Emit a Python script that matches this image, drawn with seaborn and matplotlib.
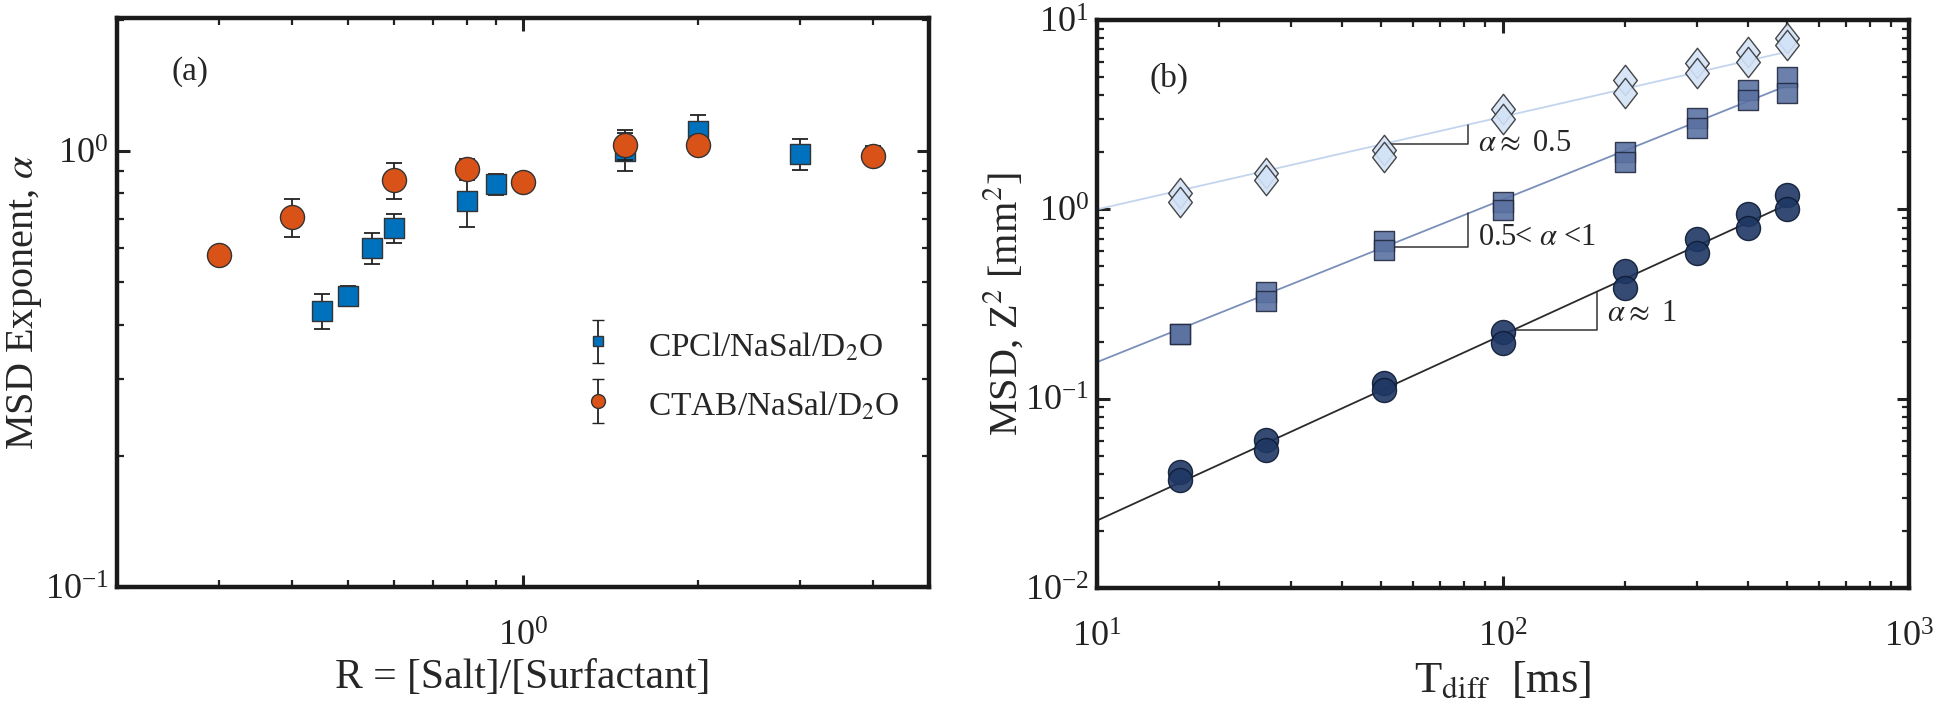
import numpy as np
import pandas as pd
import matplotlib
matplotlib.use('Agg')
import matplotlib.pyplot as plt
import seaborn as sns
from matplotlib.ticker import LogLocator, NullFormatter
from matplotlib.path import Path
from matplotlib.legend_handler import HandlerErrorbar

# Panel (a): MSD exponent vs salt/surfactant ratio
R_cpcl = [0.45, 0.5, 0.55, 0.6, 0.8, 0.9, 1.5, 2.0, 3.0]
alpha_cpcl = [0.43, 0.466, 0.60, 0.666, 0.77, 0.84, 1.0, 1.11, 0.987]
err_cpcl = [0.04, 0.025, 0.05, 0.05, 0.10, 0.045, 0.10, 0.10, 0.08]

R_ctab = [0.3, 0.4, 0.6, 0.8, 1.0, 1.5, 2.0, 4.0]
alpha_ctab = [0.579, 0.705, 0.858, 0.91, 0.85, 1.035, 1.035, 0.977]
err_ctab = [0.02, 0.07, 0.08, 0.05, 0.04, 0.08, 0.05, 0.05]

# Panel (b): MSD vs diffusion time, two repeats per series
T_diff = [16, 26, 51, 100, 200, 300, 400, 500]
msd_diamond_1 = [1.22, 1.56, 2.06, 3.40, 4.80, 5.93, 6.80, 8.05]
msd_diamond_2 = [1.09, 1.43, 1.90, 3.00, 4.13, 5.25, 6.00, 7.40]
msd_square_1 = [0.22, 0.368, 0.68, 1.09, 2.00, 3.04, 4.25, 5.00]
msd_square_2 = [0.22, 0.329, 0.61, 0.99, 1.78, 2.69, 3.80, 4.13]
msd_circle_1 = [0.0408, 0.0603, 0.121, 0.225, 0.472, 0.697, 0.946, 1.19]
msd_circle_2 = [0.0371, 0.0538, 0.111, 0.197, 0.384, 0.589, 0.80, 1.00]

# fitted power-law lines (end points)
fit_T = [10, 500]
fit_diamond = [1.0, 6.8]
fit_square = [0.156, 4.5]
fit_circle = [0.0227, 1.06]

sns.set_theme(style='ticks')
plt.rcParams['font.family'] = ['Liberation Serif', 'DejaVu Serif']
plt.rcParams['mathtext.fontset'] = 'stix'

ORANGE = '#d95319'
BLUE = '#0072bd'

fig = plt.figure(figsize=(19.4, 7.17), dpi=100)
ax1 = fig.add_axes([0.0603, 0.1813, 0.4186, 0.7936])
ax2 = fig.add_axes([0.5655, 0.180, 0.4186, 0.792])

# ---------- (a) ----------
ax1.set_xscale('log')
ax1.set_yscale('log')
df_cpcl = pd.DataFrame({'R': R_cpcl, 'alpha': alpha_cpcl})
df_ctab = pd.DataFrame({'R': R_ctab, 'alpha': alpha_ctab})

ax1.errorbar(R_cpcl, alpha_cpcl, yerr=err_cpcl, fmt='none', ecolor='#222222',
             elinewidth=1.3, capsize=5.5, capthick=1.3, zorder=2)
sns.scatterplot(data=df_cpcl, x='R', y='alpha', ax=ax1, marker='s', s=190,
                color=BLUE, edgecolor='#333333', linewidth=1, zorder=3)
ax1.errorbar(R_ctab, alpha_ctab, yerr=err_ctab, fmt='none', ecolor='#222222',
             elinewidth=1.3, capsize=5.5, capthick=1.3, zorder=4)
sns.scatterplot(data=df_ctab, x='R', y='alpha', ax=ax1, marker='o', s=300,
                color=ORANGE, edgecolor='#333333', linewidth=1, zorder=5)

# legend proxies with error bars
h1 = ax1.errorbar([np.nan], [np.nan], yerr=[1], fmt='s', ms=7, mfc=BLUE, mec='#333333',
                  ecolor='#222222', elinewidth=1.3, capsize=4.5)
h2 = ax1.errorbar([np.nan], [np.nan], yerr=[1], fmt='o', ms=10, mfc=ORANGE, mec='#333333',
                  ecolor='#222222', elinewidth=1.3, capsize=4.5)
ax1.legend([h1, h2], ['CPCl/NaSal/D$_2$O', 'CTAB/NaSal/D$_2$O'], loc='upper left',
           bbox_to_anchor=(0.531, 0.51), frameon=False, fontsize=24,
           handlelength=1.2, handleheight=1.3, labelspacing=0.7, handletextpad=0.9,
           handler_map={type(h1): HandlerErrorbar(yerr_size=0.65)})

ax1.set_xlim(0.2, 5)
ax1.set_ylim(0.1, 2.02)
ax1.set_xlabel('R = [Salt]/[Surfactant]', fontsize=30, labelpad=4)
ax1.set_ylabel(r'MSD Exponent, $\alpha$', fontsize=29)
ax1.yaxis.set_label_coords(-0.09, 0.5)
ax1.text(0.267, 1.52, '(a)', fontsize=24, ha='center', va='center')

# ---------- (b) ----------
ax2.set_xscale('log')
ax2.set_yscale('log')
series = {
    'diamond': (msd_diamond_1, msd_diamond_2),
    'square': (msd_square_1, msd_square_2),
    'circle': (msd_circle_1, msd_circle_2),
}
rows = []
for name, reps in series.items():
    for rep, vals in enumerate(reps):
        for t, v in zip(T_diff, vals):
            rows.append({'series': name, 'rep': rep, 'T': t, 'MSD': v})
df_b = pd.DataFrame(rows)

fits = pd.DataFrame({
    'T': fit_T * 3,
    'MSD': fit_diamond + fit_square + fit_circle,
    'series': ['diamond'] * 2 + ['square'] * 2 + ['circle'] * 2,
})
line_colors = {'diamond': '#c3d5ee', 'square': '#7b8fbb', 'circle': '#2b2b2b'}
sns.lineplot(data=fits, x='T', y='MSD', hue='series', palette=line_colors,
             ax=ax2, legend=False, linewidth=1.3, zorder=2)

rhombus = Path([(0, 1), (0.78, 0), (0, -1), (-0.78, 0), (0, 1)],
               [Path.MOVETO, Path.LINETO, Path.LINETO, Path.LINETO, Path.CLOSEPOLY])
styles = {
    'diamond': dict(marker=rhombus, s=480, color='#d3e3f7', edgecolor='#333333'),
    'square': dict(marker='s', s=190, color='#5b72a2', edgecolor='#222a40'),
    'circle': dict(marker='o', s=300, color='#1f3764', edgecolor='#0e1a33'),
}
for name, st in styles.items():
    sns.scatterplot(data=df_b[df_b['series'] == name], x='T', y='MSD', ax=ax2,
                    linewidth=1, alpha=0.9, zorder=3, legend=False, **st)

# slope triangles built on the fitted lines
def fit_at(t, ys):
    lt = np.log10(fit_T)
    return 10 ** np.interp(np.log10(t), lt, np.log10(ys))

triangles = [
    (fit_diamond, 51, 82, r'$\alpha \approx$ 0.5', 0.0),
    (fit_square, 51, 82, r'0.5< $\alpha$ <1', 0.28),
    (fit_circle, 106, 170, r'$\alpha \approx$ 1', 0.43),
]
for ys, t0, t1, label, frac in triangles:
    y0, y1 = fit_at(t0, ys), fit_at(t1, ys)
    ax2.plot([t0, t1, t1], [y0, y0, y1], color='#333333', lw=1.1, zorder=2)
    ax2.text(t1 * 1.06, y0 * (y1 / y0) ** frac, label, fontsize=22,
             va='center', ha='left')

ax2.set_xlim(10, 1000)
ax2.set_ylim(0.01, 10)
ax2.set_xlabel(r'T$_{\rm diff}$  [ms]', fontsize=32, labelpad=4)
ax2.set_ylabel(r'MSD, Z$^2$ [mm$^2$]', fontsize=29)
ax2.yaxis.set_label_coords(-0.088, 0.5)
ax2.text(15.0, 4.9, '(b)', fontsize=24, ha='center', va='center')

for ax in (ax1, ax2):
    ax.xaxis.set_major_locator(LogLocator(base=10))
    ax.yaxis.set_major_locator(LogLocator(base=10))
    ax.xaxis.set_minor_locator(LogLocator(base=10, subs=np.arange(2, 10)))
    ax.yaxis.set_minor_locator(LogLocator(base=10, subs=np.arange(2, 10)))
    ax.xaxis.set_minor_formatter(NullFormatter())
    ax.yaxis.set_minor_formatter(NullFormatter())
    ax.tick_params(which='both', direction='in', top=True, right=True,
                   labelsize=26, colors='#222222')
    ax.tick_params(which='major', length=9, width=2.2)
    ax.tick_params(which='minor', length=5, width=1.6)
    ax.tick_params(axis='x', which='major', pad=24)
    ax.tick_params(axis='y', which='major', pad=6)
    for sp in ax.spines.values():
        sp.set_linewidth(3.2)
        sp.set_color('#1a1a1a')

fig.savefig('out.png', dpi=100)
